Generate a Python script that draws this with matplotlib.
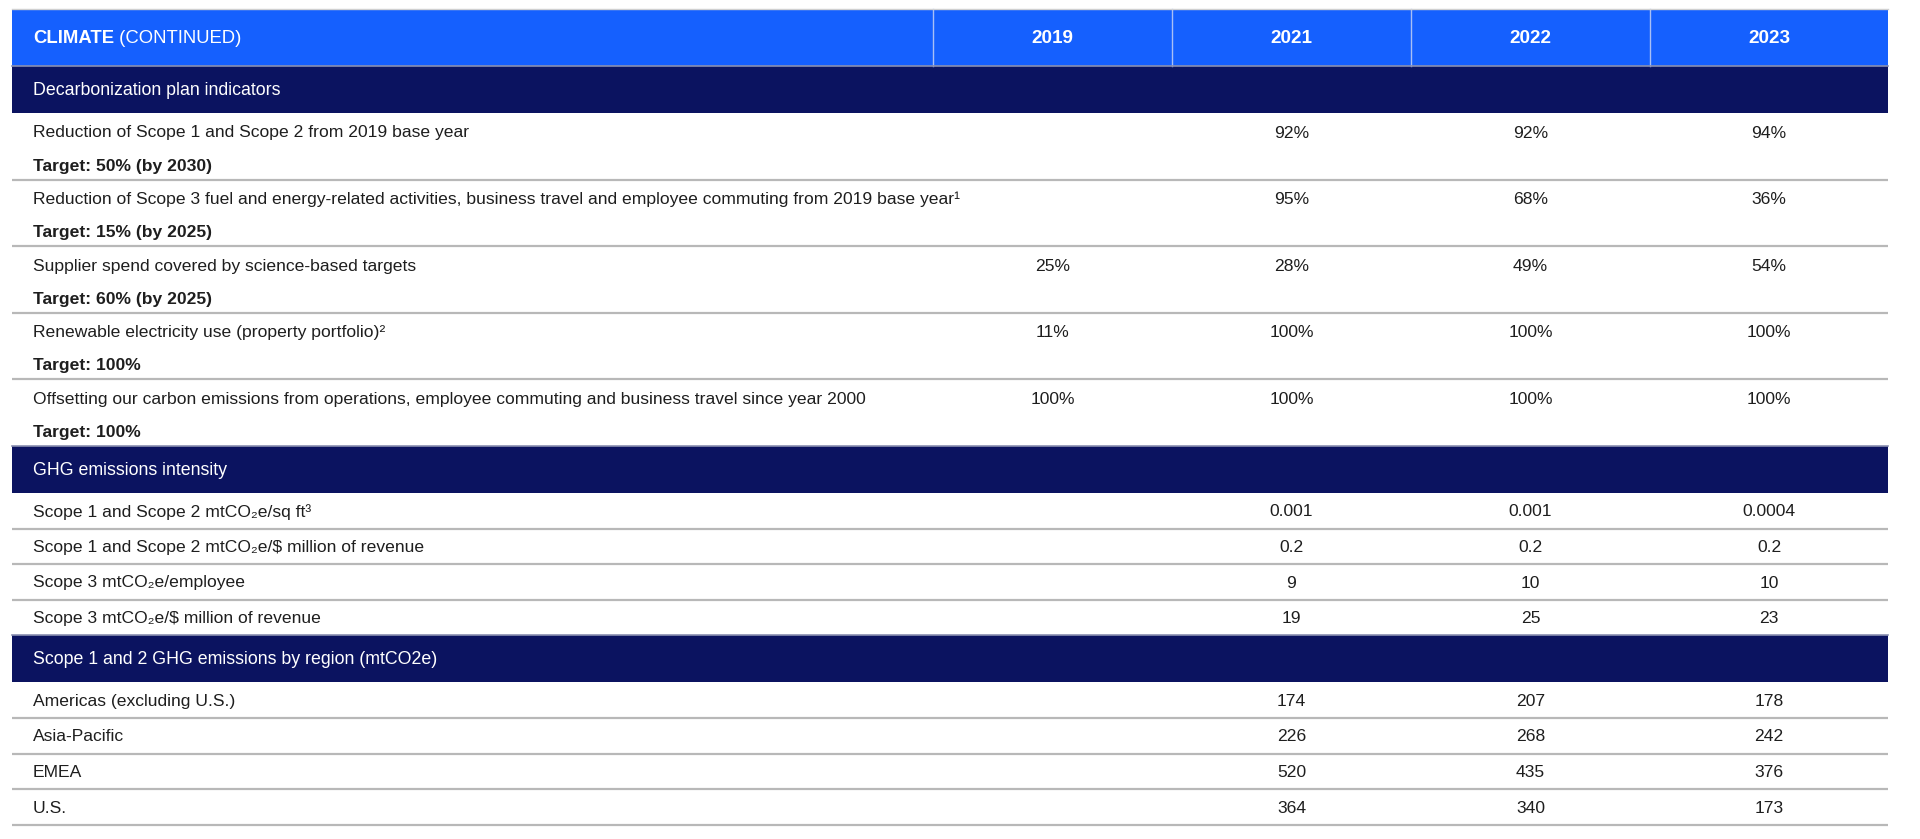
import matplotlib
matplotlib.use("Agg")
import matplotlib.pyplot as plt
from matplotlib.patches import Rectangle

# ---------------- data ----------------
years = ["2019", "2021", "2022", "2023"]

decarb_labels = [
    "Reduction of Scope 1 and Scope 2 from 2019 base year",
    "Reduction of Scope 3 fuel and energy-related activities, business travel and employee commuting from 2019 base year\u00b9",
    "Supplier spend covered by science-based targets",
    "Renewable electricity use (property portfolio)\u00b2",
    "Offsetting our carbon emissions from operations, employee commuting and business travel since year 2000",
]
decarb_targets = [
    "Target: 50% (by 2030)",
    "Target: 15% (by 2025)",
    "Target: 60% (by 2025)",
    "Target: 100%",
    "Target: 100%",
]
decarb_values = [
    ["", "92%", "92%", "94%"],
    ["", "95%", "68%", "36%"],
    ["25%", "28%", "49%", "54%"],
    ["11%", "100%", "100%", "100%"],
    ["100%", "100%", "100%", "100%"],
]

intensity_labels = [
    "Scope 1 and Scope 2 mtCO\u2082e/sq ft\u00b3",
    "Scope 1 and Scope 2 mtCO\u2082e/$ million of revenue",
    "Scope 3 mtCO\u2082e/employee",
    "Scope 3 mtCO\u2082e/$ million of revenue",
]
intensity_values = [
    ["", "0.001", "0.001", "0.0004"],
    ["", "0.2", "0.2", "0.2"],
    ["", "9", "10", "10"],
    ["", "19", "25", "23"],
]

region_labels = ["Americas (excluding U.S.)", "Asia-Pacific", "EMEA", "U.S."]
region_values = [
    ["", "174", "207", "178"],
    ["", "226", "268", "242"],
    ["", "520", "435", "376"],
    ["", "364", "340", "173"],
]

section_titles = [
    "Decarbonization plan indicators",
    "GHG emissions intensity",
    "Scope 1 and 2 GHG emissions by region (mtCO2e)",
]

# ---------------- style ----------------
BLUE = "#1560FE"
NAVY = "#0B1360"
GRID = "#B8B8B8"
TXT = "#1E1E1E"
FONT = ["Liberation Sans", "DejaVu Sans"]
FS = 12.6
FS_BAND = 12.8
FS_HEAD = 13.3

W, H = 1920, 839
fig = plt.figure(figsize=(W / 100, H / 100), dpi=100)
ax = fig.add_axes([0, 0, 1, 1])
ax.set_xlim(0, W)
ax.set_ylim(H, 0)
ax.axis("off")

X0, X1 = 12, 1888
col_edges = [933, 1172, 1411, 1650, 1888]
col_centers = [(col_edges[i] + col_edges[i + 1]) / 2 for i in range(4)]
TX = 33

HEAD_H = 57
BAND_H = 47
ROW2_H = 66.6
ROW1_H = 35.6

def hline(y):
    ax.plot([X0, X1], [y, y], color=GRID, lw=1.6, solid_capstyle="butt", zorder=3)

# header
y = 9
ax.add_patch(Rectangle((X0, y), X1 - X0, HEAD_H, color=BLUE, lw=0, zorder=1))
for xe in col_edges[:-1]:
    ax.plot([xe, xe], [y, y + HEAD_H], color="#A9BFF5", lw=1.0, zorder=2)
ax.plot([X0, X1], [y, y], color="#D0D0D0", lw=1.0, zorder=2)
t1 = ax.text(TX, y + HEAD_H / 2 + 1, "CLIMATE", color="white", fontsize=FS_HEAD,
             fontweight="bold", family=FONT, va="center", ha="left")
fig.canvas.draw()
r = fig.canvas.get_renderer()
bb = t1.get_window_extent(r)
x_after = ax.transData.inverted().transform((bb.x1, 0))[0]
ax.text(x_after, y + HEAD_H / 2 + 1, " (CONTINUED)", color="white", fontsize=FS_HEAD,
        family=FONT, va="center", ha="left")
for xc, yr in zip(col_centers, years):
    ax.text(xc, y + HEAD_H / 2 + 1, yr, color="white", fontsize=FS_HEAD + 0.3,
            fontweight="bold", family=FONT, va="center", ha="center")
y += HEAD_H

def band(y, title):
    ax.add_patch(Rectangle((X0, y), X1 - X0, BAND_H, color=NAVY, lw=0, zorder=1))
    ax.plot([X0, X1], [y, y], color="#8A8FB0", lw=1.2, zorder=2)
    ax.text(TX, y + BAND_H / 2 + 1, title, color="white", fontsize=FS_BAND,
            family=FONT, va="center", ha="left", zorder=4)
    return y + BAND_H

# section 1
y = band(y, section_titles[0])
for lab, tgt, vals in zip(decarb_labels, decarb_targets, decarb_values):
    ax.text(TX, y + 20, lab, color=TXT, fontsize=FS, family=FONT, va="center", ha="left")
    ax.text(TX, y + 53, tgt, color=TXT, fontsize=FS, family=FONT, fontweight="bold",
            va="center", ha="left")
    for xc, v in zip(col_centers, vals):
        ax.text(xc, y + 20, v, color=TXT, fontsize=FS, family=FONT, va="center", ha="center")
    y += ROW2_H
    if lab != decarb_labels[-1]:
        hline(y)

# section 2
y = band(y, section_titles[1])
for i, (lab, vals) in enumerate(zip(intensity_labels, intensity_values)):
    ax.text(TX, y + ROW1_H / 2 + 1, lab, color=TXT, fontsize=FS, family=FONT,
            va="center", ha="left")
    for xc, v in zip(col_centers, vals):
        ax.text(xc, y + ROW1_H / 2 + 1, v, color=TXT, fontsize=FS, family=FONT,
                va="center", ha="center")
    y += ROW1_H
    if i < len(intensity_labels) - 1:
        hline(y)

# section 3
y = band(y, section_titles[2])
for lab, vals in zip(region_labels, region_values):
    ax.text(TX, y + ROW1_H / 2 + 1, lab, color=TXT, fontsize=FS, family=FONT,
            va="center", ha="left")
    for xc, v in zip(col_centers, vals):
        ax.text(xc, y + ROW1_H / 2 + 1, v, color=TXT, fontsize=FS, family=FONT,
                va="center", ha="center")
    y += ROW1_H
    hline(y)

fig.savefig("out.png", dpi=100, facecolor="white")
